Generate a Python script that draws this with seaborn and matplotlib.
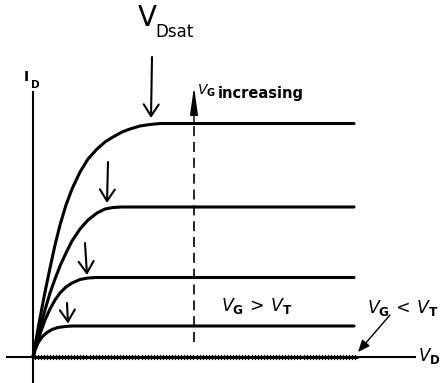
import matplotlib
matplotlib.use("Agg")
import matplotlib.pyplot as plt
import matplotlib.patheffects as pe
import pandas as pd
import seaborn as sns

# Output characteristics of a MOSFET (arbitrary units): drain current vs drain voltage
# for four gate voltages above threshold, largest V_G first.
vd_1 = [0, 0.3, 0.7, 1.2, 1.7, 2.2, 2.7, 3.3, 3.9, 4.7, 5.5, 6.4, 7.2, 8.0, 8.9, 9.7, 10.7, 11.7, 12.7, 32.1]
id_1 = [0, 1.7, 3.9, 6.5, 8.9, 11.2, 13.2, 15.2, 16.8, 18.5, 19.8, 20.8, 21.5, 22.0, 22.5, 22.8, 23.1, 23.25, 23.35, 23.35]

vd_2 = [0, 0.3, 0.7, 1.2, 1.7, 2.2, 2.7, 3.3, 3.9, 4.7, 5.5, 6.4, 7.2, 8.0, 8.9, 32.1]
id_2 = [0, 1.3, 2.9, 4.7, 6.4, 7.8, 9.1, 10.4, 11.6, 12.8, 13.7, 14.4, 14.8, 14.95, 15.0, 15.0]

vd_3 = [0, 0.3, 0.7, 1.2, 1.7, 2.2, 2.7, 3.3, 3.9, 4.7, 5.5, 6.3, 32.1]
id_3 = [0, 1.1, 2.3, 3.7, 4.8, 5.7, 6.4, 7.0, 7.4, 7.75, 7.9, 7.95, 7.95]

vd_4 = [0, 0.2, 0.5, 0.9, 1.4, 1.9, 2.5, 3.2, 3.9, 32.1]
id_4 = [0, 0.7, 1.4, 2.0, 2.45, 2.75, 2.95, 3.05, 3.1, 3.1]

# Below threshold (V_G < V_T): no drain current
vd_off = [0, 32.4]
id_off = [0, 0]

# V_Dsat markers: arrow tails and tips (V_D, I_D) for each curve
sat_tail_v = [11.9, 7.5, 5.2, 3.4]
sat_tail_i = [30.0, 19.5, 11.4, 5.4]
sat_tip_v = [11.8, 7.4, 5.4, 3.5]
sat_tip_i = [23.9, 15.4, 8.2, 3.35]

# "V_G increasing" guide: dashed line from bottom curve region to above top curve
vg_guide_v = 16.1
vg_guide_i = [1.5, 23.35, 27.0]

sns.set_theme(style="white")
plt.rcParams["font.family"] = ["DejaVu Sans"]
plt.rcParams["text.color"] = "black"

W, H = 441, 383
fig = plt.figure(figsize=(W / 100, H / 100), dpi=100)
ax = fig.add_axes([7 / W, 1 / H, 408 / W, 290 / H])
ax.set_xlim(-2.6, 38.2)
ax.set_ylim(-2.5, 26.5)


def px(x, y):
    """Pixel position (from top-left) to figure fraction."""
    return x / W, 1 - y / H


curves = pd.DataFrame({
    "vd": vd_1 + vd_2 + vd_3 + vd_4,
    "id": id_1 + id_2 + id_3 + id_4,
    "vg": ["1"] * len(vd_1) + ["2"] * len(vd_2) + ["3"] * len(vd_3) + ["4"] * len(vd_4),
})
sns.lineplot(data=curves, x="vd", y="id", units="vg", estimator=None, sort=False,
             color="black", lw=2.2, ax=ax, solid_capstyle="round")

# Axes drawn through the origin
for s in ["top", "right"]:
    ax.spines[s].set_visible(False)
for s in ["left", "bottom"]:
    ax.spines[s].set_position(("data", 0))
    ax.spines[s].set_color("black")
    ax.spines[s].set_linewidth(1.5)
ax.set_xticks([])
ax.set_yticks([])
ax.set_xlabel("")
ax.set_ylabel("")

# Hatched zero-current line
off_line = sns.lineplot(x=vd_off, y=id_off, color="black", lw=1.8, ax=ax)
off_line.lines[-1].set_path_effects([
    pe.withTickedStroke(angle=90, spacing=2.2, length=0.8, linewidth=1.0),
    pe.withTickedStroke(angle=-90, spacing=2.2, length=0.8, linewidth=1.0),
    pe.Normal(),
])

# V_Dsat arrows
for tv, ti, hv, hi in zip(sat_tail_v, sat_tail_i, sat_tip_v, sat_tip_i):
    ax.annotate("", xy=(hv, hi), xytext=(tv, ti), annotation_clip=False,
                arrowprops=dict(arrowstyle="->,head_length=0.7,head_width=0.45",
                                color="black", lw=1.5, shrinkA=0, shrinkB=0))

# Dashed "V_G increasing" guide with arrow
ax.plot([vg_guide_v, vg_guide_v], vg_guide_i[:2], color="black", lw=1.2,
        dashes=(6, 3.5))
ax.annotate("", xy=(vg_guide_v, vg_guide_i[2]), xytext=(vg_guide_v, vg_guide_i[1]),
            annotation_clip=False,
            arrowprops=dict(arrowstyle="-|>,head_length=1.4,head_width=0.2",
                            color="black", lw=1.0, shrinkA=0, shrinkB=0))

# Arrow pointing at the zero-current line
ax.annotate("", xy=(32.5, 0.5), xytext=(35.7, 4.2), annotation_clip=False,
            arrowprops=dict(arrowstyle="-|>,head_length=0.6,head_width=0.25",
                            color="black", lw=1.0, shrinkA=0, shrinkB=0))

# Labels
fig.text(*px(138, 26), "V", fontsize=20, va="baseline")
fig.text(*px(155, 37), "Dsat", fontsize=12, va="baseline")

fig.text(*px(24, 81), "I", fontsize=10, fontweight="bold", va="baseline")
fig.text(*px(31, 88), "D", fontsize=7.5, fontweight="bold", va="baseline")

fig.text(*px(197, 95), r"$V_{\mathbf{G}}$", fontsize=10, va="baseline")
fig.text(*px(218, 98), "increasing", fontsize=10.5, fontweight="bold", va="baseline")

fig.text(*px(221, 311), r"$V_{\mathbf{G}}\,>\,V_{\mathbf{T}}$", fontsize=12.5, va="baseline")
fig.text(*px(367, 313), r"$V_{\mathbf{G}}\,<\,V_{\mathbf{T}}$", fontsize=12.5, va="baseline")
fig.text(*px(418, 361), r"$V_{\mathbf{D}}$", fontsize=12, va="baseline")

fig.savefig("out.png", dpi=100, facecolor="white")
